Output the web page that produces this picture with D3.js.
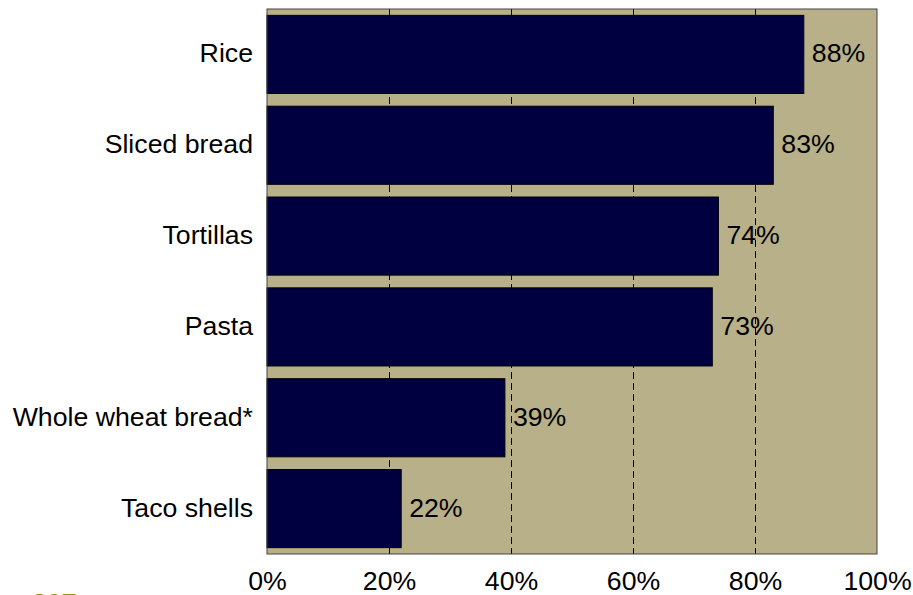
<!DOCTYPE html>
<html>
<head>
<meta charset="utf-8">
<script src="https://cdn.jsdelivr.net/npm/d3@7"></script>
<style>
  html, body { margin: 0; padding: 0; background: #ffffff; }
  svg { display: block; }
  text { font-family: "Liberation Sans", Arial, sans-serif; }
</style>
</head>
<body>
<svg id="chart" width="913" height="595"></svg>
<script>
// Share of households using each grain product
const categories = ["Rice", "Sliced bread", "Tortillas", "Pasta", "Whole wheat bread*", "Taco shells"];
const shares = [88, 83, 74, 73, 39, 22];
const tickValues = [0, 20, 40, 60, 80, 100];
const pageNumber = "207";

const fontSize = 26.7;
const svg = d3.select("#chart");
const margin = { top: 9, right: 36, bottom: 41, left: 267 };
const width = 913 - margin.left - margin.right;   // 610
const height = 595 - margin.top - margin.bottom;  // 545

const x = d3.scaleLinear().domain([0, 100]).range([0, width]);
const y = d3.scaleBand().domain(categories).range([0, height])
  .paddingInner(0.14).paddingOuter(0.07);

const g = svg.append("g").attr("transform", `translate(${margin.left},${margin.top})`);

// plot background
g.append("rect")
  .attr("x", 0).attr("y", 0)
  .attr("width", width).attr("height", height)
  .attr("fill", "#b8b088");

// dashed vertical gridlines
g.append("g")
  .selectAll("line")
  .data(tickValues.filter(t => t > 0 && t < 100))
  .join("line")
  .attr("x1", d => x(d)).attr("x2", d => x(d))
  .attr("y1", 0).attr("y2", height)
  .attr("stroke", "#000")
  .attr("stroke-width", 1)
  .attr("stroke-dasharray", "7,4")
  .attr("shape-rendering", "crispEdges");

// bars
g.append("g")
  .selectAll("rect")
  .data(categories)
  .join("rect")
  .attr("x", 0)
  .attr("y", (d) => y(d))
  .attr("width", (d, i) => x(shares[i]))
  .attr("height", y.bandwidth())
  .attr("fill", "#000040")
  .attr("stroke", "#000")
  .attr("stroke-width", 1);

// plot frame
g.append("rect")
  .attr("x", 0).attr("y", 0)
  .attr("width", width).attr("height", height)
  .attr("fill", "none")
  .attr("stroke", "#444")
  .attr("stroke-width", 1);

// value labels
g.append("g")
  .selectAll("text")
  .data(categories)
  .join("text")
  .attr("x", (d, i) => x(shares[i]) + 8)
  .attr("y", d => y(d) + y.bandwidth() / 2)
  .attr("dy", "0.3em")
  .attr("font-size", fontSize)
  .attr("fill", "#000")
  .text((d, i) => shares[i] + "%");

// category axis
const yAxis = g.append("g")
  .call(d3.axisLeft(y).tickSize(0).tickPadding(14));
yAxis.select(".domain").remove();
yAxis.selectAll("text")
  .attr("font-size", fontSize)
  .attr("font-family", "Liberation Sans, Arial, sans-serif")
  .attr("fill", "#000")
  .attr("dy", "0.3em");

// percentage axis
const xAxis = g.append("g")
  .attr("transform", `translate(0,${height})`)
  .call(d3.axisBottom(x).tickValues(tickValues).tickSize(0).tickPadding(17)
    .tickFormat(d => d + "%"));
xAxis.select(".domain").remove();
xAxis.selectAll("text")
  .attr("font-size", fontSize)
  .attr("font-family", "Liberation Sans, Arial, sans-serif")
  .attr("fill", "#000");

// page number at the foot, running off the bottom edge
svg.append("text")
  .attr("x", 32)
  .attr("y", 612)
  .attr("font-size", fontSize)
  .attr("font-weight", "bold")
  .attr("fill", "#999900")
  .text(pageNumber);
</script>
</body>
</html>
